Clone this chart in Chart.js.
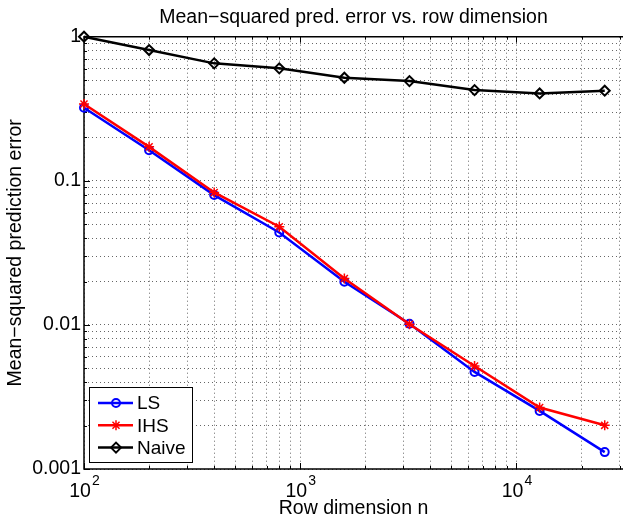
<!DOCTYPE html>
<html>
<head>
<meta charset="utf-8">
<script src="https://cdn.jsdelivr.net/npm/chart.js@4.4.1/dist/chart.umd.min.js"></script>
<style>
  html, body { margin: 0; padding: 0; background: #fff; }
</style>
</head>
<body>
<canvas id="errChart" width="630" height="520"></canvas>
<script>
// values
const rowDims = [100, 200, 400, 800, 1600, 3200, 6400, 12800, 25600];
const lsErr = [0.321, 0.163, 0.0796, 0.0438, 0.0199, 0.0102, 0.00472, 0.00253, 0.00131];
const ihsErr = [0.341, 0.172, 0.083, 0.048, 0.021, 0.0101, 0.00518, 0.00267, 0.00201];
const naiveErr = [1.0, 0.808, 0.653, 0.603, 0.519, 0.492, 0.426, 0.404, 0.422];
const seriesNames = ["LS", "IHS", "Naive"];

const chartTitle = "Mean\u2212squared pred. error vs. row dimension";
const xTitle = "Row dimension n";
const yTitle = "Mean\u2212squared prediction error";

const X_MIN = 100, X_MAX = 31100;
const Y_MIN = 0.001, Y_MAX = 1;
const FONT = '"Liberation Sans", Arial, Helvetica, sans-serif';
const FS = 19.5;

// 1..9 x 10^k inside [min, max]
function logTicks(min, max) {
  const out = [];
  for (let e = Math.floor(Math.log10(min)); e <= Math.ceil(Math.log10(max)); e++) {
    for (let m = 1; m <= 9; m++) {
      const v = m * Math.pow(10, e);
      if (v >= min * 0.999 && v <= max * 1.001) out.push(v);
    }
  }
  return out;
}
function isPow10(v) {
  const l = Math.log10(v);
  return Math.abs(l - Math.round(l)) < 1e-9;
}
function pairs(ys) {
  return rowDims.map((x, i) => ({ x: x, y: ys[i] }));
}

// axis box, inward ticks, 10^k labels and the legend box
const matlabFrame = {
  id: "matlabFrame",
  beforeDatasetsDraw(chart) {
    const { ctx, chartArea: a, scales } = chart;
    ctx.save();
    ctx.strokeStyle = "#000";
    ctx.lineWidth = 1;
    scales.x.ticks.forEach(t => {
      const px = Math.round(scales.x.getPixelForValue(t.value)) + 0.5;
      const len = isPow10(t.value) ? 6 : 3;
      ctx.beginPath();
      ctx.moveTo(px, a.bottom); ctx.lineTo(px, a.bottom - len);
      ctx.moveTo(px, a.top); ctx.lineTo(px, a.top + len);
      ctx.stroke();
    });
    scales.y.ticks.forEach(t => {
      const py = Math.round(scales.y.getPixelForValue(t.value)) + 0.5;
      const len = isPow10(t.value) ? 6 : 3;
      ctx.beginPath();
      ctx.moveTo(a.left, py); ctx.lineTo(a.left + len, py);
      ctx.stroke();
    });
    ctx.lineWidth = 1.5;
    ctx.beginPath();
    ctx.moveTo(a.right, a.top);
    ctx.lineTo(a.left, a.top);
    ctx.lineTo(a.left, a.bottom);
    ctx.lineTo(a.right, a.bottom);
    ctx.stroke();
    ctx.restore();
  },
  afterDraw(chart) {
    const { ctx, chartArea: a, scales } = chart;
    ctx.save();
    ctx.fillStyle = "#000";
    // x tick labels as 10 with a raised exponent
    scales.x.ticks.filter(t => isPow10(t.value)).forEach(t => {
      const px = scales.x.getPixelForValue(t.value);
      const base = "10", exp = String(Math.round(Math.log10(t.value)));
      ctx.font = FS + "px " + FONT;
      const wb = ctx.measureText(base).width;
      ctx.font = "14px " + FONT;
      const we = ctx.measureText(exp).width;
      const x0 = px - (wb + we) / 2;
      ctx.textBaseline = "alphabetic";
      ctx.textAlign = "left";
      ctx.font = FS + "px " + FONT;
      ctx.fillText(base, x0, a.bottom + 28);
      ctx.font = "14px " + FONT;
      ctx.fillText(exp, x0 + wb + 1, a.bottom + 16);
    });

    // legend
    const bx = a.left + 5, bw = 103, bh = 75, by = a.bottom - 7 - bh;
    ctx.fillStyle = "#fff";
    ctx.fillRect(bx, by, bw, bh);
    ctx.strokeStyle = "#000";
    ctx.lineWidth = 1;
    ctx.strokeRect(bx + 0.5, by + 0.5, bw, bh);
    chart.data.datasets.forEach((ds, i) => {
      const cy = by + 16 + i * 22.3;
      ctx.strokeStyle = ds.borderColor;
      ctx.lineWidth = ds.borderWidth;
      ctx.beginPath();
      ctx.moveTo(bx + 9, cy);
      ctx.lineTo(bx + 44, cy);
      ctx.stroke();
      ctx.fillStyle = "rgba(0,0,0,0)";
      ctx.lineWidth = ds.pointBorderWidth;
      Chart.helpers.drawPoint(ctx, {
        pointStyle: ds.pointStyle, radius: ds.pointRadius, rotation: 0, borderWidth: ds.pointBorderWidth
      }, bx + 27, cy);
      ctx.fillStyle = "#000";
      ctx.font = "19px " + FONT;
      ctx.textAlign = "left";
      ctx.textBaseline = "middle";
      ctx.fillText(ds.label, bx + 48, cy + 1);
    });
    ctx.restore();
  }
};

const ctx = document.getElementById("errChart").getContext("2d");
new Chart(ctx, {
  type: "line",
  data: {
    datasets: [
      {
        label: seriesNames[0], data: pairs(lsErr), order: 1,
        borderColor: "#0000ff", borderWidth: 2.5,
        pointStyle: "circle", pointRadius: 4, pointBorderWidth: 2,
        pointBorderColor: "#0000ff", pointBackgroundColor: "rgba(0,0,0,0)",
        clip: false
      },
      {
        label: seriesNames[1], data: pairs(ihsErr), order: 0,
        borderColor: "#ff0000", borderWidth: 2.5,
        pointStyle: "star", pointRadius: 5, pointBorderWidth: 1.5,
        pointBorderColor: "#ff0000", pointBackgroundColor: "rgba(0,0,0,0)",
        clip: false
      },
      {
        label: seriesNames[2], data: pairs(naiveErr), order: 2,
        borderColor: "#000000", borderWidth: 2.5,
        pointStyle: "rectRot", pointRadius: 5, pointBorderWidth: 2,
        pointBorderColor: "#000000", pointBackgroundColor: "rgba(0,0,0,0)",
        clip: false
      }
    ]
  },
  options: {
    responsive: false,
    animation: false,
    layout: { padding: 0 },
    plugins: {
      legend: { display: false },
      tooltip: { enabled: false },
      title: {
        display: true, text: chartTitle, fullSize: false, color: "#000",
        font: { family: FONT, size: FS, weight: "normal" },
        padding: { top: 6, bottom: 7.3 }
      }
    },
    scales: {
      x: {
        type: "logarithmic", min: X_MIN, max: X_MAX,
        afterBuildTicks: s => { s.ticks = logTicks(X_MIN, X_MAX).map(v => ({ value: v })); },
        afterFit: s => { s.height = 51; },
        ticks: { display: false, autoSkip: false },
        grid: { color: "rgba(0,0,0,0.6)", lineWidth: 1, drawTicks: false },
        border: { display: false, dash: [1, 3] },
        title: {
          display: true, text: xTitle, color: "#000",
          font: { family: FONT, size: FS }, padding: { top: 0, bottom: 0 }
        }
      },
      y: {
        type: "logarithmic", min: Y_MIN, max: Y_MAX,
        afterBuildTicks: s => { s.ticks = logTicks(Y_MIN, Y_MAX).map(v => ({ value: v })); },
        afterFit: s => { s.width = 84; },
        ticks: {
          autoSkip: false, padding: 3, color: "#000",
          font: { family: FONT, size: FS },
          callback: v => isPow10(v) ? String(Number(v.toPrecision(1))) : ""
        },
        grid: { color: "rgba(0,0,0,0.6)", lineWidth: 1, drawTicks: false },
        border: { display: false, dash: [1, 3] },
        title: {
          display: true, text: yTitle, color: "#000",
          font: { family: FONT, size: FS }, padding: { top: 4, bottom: 0 }
        }
      }
    }
  },
  plugins: [matlabFrame]
});
</script>
</body>
</html>
